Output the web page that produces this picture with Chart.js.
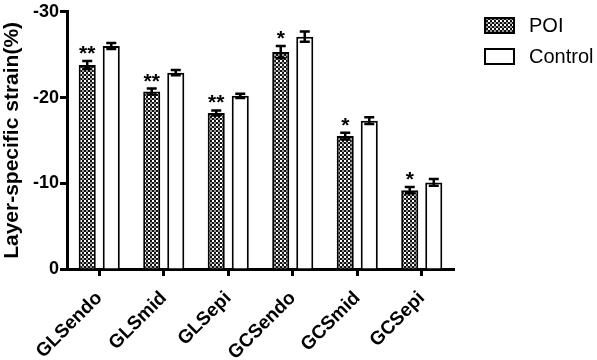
<!DOCTYPE html>
<html>
<head>
<meta charset="utf-8">
<script src="https://cdn.jsdelivr.net/npm/chart.js@4.4.0/dist/chart.umd.min.js"></script>
<style>
  html, body { margin: 0; padding: 0; background: #fff; }
  #wrap { width: 597px; height: 360px; position: relative; }
</style>
</head>
<body>
<div id="wrap"><canvas id="chart"></canvas></div>
<script>
// chart data
const categories = ['GLSendo', 'GLSmid', 'GLSepi', 'GCSendo', 'GCSmid', 'GCSepi'];
const poiValues = [-23.8, -20.7, -18.2, -25.3, -15.5, -9.2];
const controlValues = [-26.0, -22.9, -20.2, -27.1, -17.3, -10.1];
const poiErrors = [0.45, 0.35, 0.3, 0.7, 0.4, 0.35];
const controlErrors = [0.35, 0.3, 0.25, 0.6, 0.4, 0.4];
const significance = ['**', '**', '**', '*', '*', '*'];
const yTicks = [-30, -20, -10, 0];

const FONT = 'Liberation Sans, Arial, sans-serif';

// checkered fill used for the POI bars
function makeCheckerPattern() {
    const tile = document.createElement('canvas');
    tile.width = 4;
    tile.height = 4;
    const c = tile.getContext('2d');
    c.fillStyle = '#111';
    c.fillRect(0, 0, 4, 4);
    c.fillStyle = '#fff';
    c.fillRect(0, 0, 2, 2);
    c.fillStyle = '#999';
    c.fillRect(2, 2, 2, 2);
    return document.getElementById('chart').getContext('2d').createPattern(tile, 'repeat');
}
const checker = makeCheckerPattern();

// error bars + significance stars
const errorBarPlugin = {
    id: 'errorBars',
    afterDatasetsDraw(chart) {
        const ctx = chart.ctx;
        const y = chart.scales.y;
        const errs = [poiErrors, controlErrors];
        ctx.save();
        ctx.strokeStyle = '#000';
        ctx.lineWidth = 2.5;
        chart.data.datasets.forEach((ds, di) => {
            const meta = chart.getDatasetMeta(di);
            meta.data.forEach((bar, i) => {
                const v = ds.data[i];
                const e = errs[di][i];
                const yTop = y.getPixelForValue(v - e);
                const yBot = y.getPixelForValue(v + e);
                const cap = 5;
                ctx.beginPath();
                ctx.moveTo(bar.x, yTop);
                ctx.lineTo(bar.x, yBot);
                ctx.moveTo(bar.x - cap, yTop);
                ctx.lineTo(bar.x + cap, yTop);
                ctx.moveTo(bar.x - cap, yBot);
                ctx.lineTo(bar.x + cap, yBot);
                ctx.stroke();
                if (di === 0) {
                    ctx.fillStyle = '#000';
                    ctx.font = 'bold 21px ' + FONT;
                    ctx.textAlign = 'center';
                    ctx.textBaseline = 'alphabetic';
                    ctx.fillText(significance[i], bar.x, yTop - 1);
                }
            });
        });
        ctx.restore();
    }
};

// legend drawn at the top right
const legendPlugin = {
    id: 'sideLegend',
    afterDraw(chart) {
        const ctx = chart.ctx;
        ctx.save();
        chart.data.datasets.forEach((ds, i) => {
            const bx = 485, by = 18 + i * 31;
            ctx.fillStyle = ds.backgroundColor;
            ctx.fillRect(bx, by, 29, 15);
            ctx.strokeStyle = '#000';
            ctx.lineWidth = 2;
            ctx.strokeRect(bx, by, 29, 15);
            ctx.fillStyle = '#000';
            ctx.font = '20px ' + FONT;
            ctx.textAlign = 'left';
            ctx.textBaseline = 'middle';
            ctx.fillText(ds.label, 529, by + 8);
        });
        ctx.restore();
    }
};

new Chart(document.getElementById('chart'), {
    type: 'bar',
    data: {
        labels: categories,
        datasets: [
            {
                label: 'POI',
                data: poiValues,
                backgroundColor: checker,
                borderColor: '#000',
                borderWidth: 2,
                borderSkipped: 'start'
            },
            {
                label: 'Control',
                data: controlValues,
                backgroundColor: '#fff',
                borderColor: '#000',
                borderWidth: 2,
                borderSkipped: 'start'
            }
        ]
    },
    options: {
        responsive: true,
        maintainAspectRatio: false,
        animation: false,
        layout: { padding: { top: 9, right: 143, left: 0, bottom: 0 } },
        datasets: {
            bar: { categoryPercentage: 0.745, barPercentage: 0.71 }
        },
        plugins: {
            legend: { display: false },
            tooltip: { enabled: false }
        },
        scales: {
            x: {
                afterFit(scale) { scale.height = 91; },
                border: { color: '#000', width: 3 },
                grid: {
                    offset: false,
                    drawOnChartArea: false,
                    drawTicks: true,
                    tickLength: 7,
                    tickWidth: 3,
                    tickColor: '#000'
                },
                ticks: {
                    color: '#000',
                    font: { family: FONT, size: 19, weight: 'bold' },
                    minRotation: 45,
                    maxRotation: 45,
                    padding: 11
                }
            },
            y: {
                min: yTicks[0],
                max: yTicks[yTicks.length - 1],
                reverse: true,
                afterFit(scale) { scale.width = 67; },
                afterBuildTicks(scale) {
                    scale.ticks = yTicks.map(v => ({ value: v }));
                },
                border: { color: '#000', width: 3 },
                grid: {
                    drawOnChartArea: false,
                    drawTicks: true,
                    tickLength: 7,
                    tickWidth: 3,
                    tickColor: '#000'
                },
                ticks: {
                    color: '#000',
                    font: { family: FONT, size: 18, weight: 'bold' },
                    padding: 1
                },
                title: {
                    display: true,
                    text: 'Layer-specific strain(%)',
                    color: '#000',
                    font: { family: FONT, size: 21, weight: 'bold' },
                    padding: 0
                }
            }
        }
    },
    plugins: [errorBarPlugin, legendPlugin]
});
</script>
</body>
</html>
